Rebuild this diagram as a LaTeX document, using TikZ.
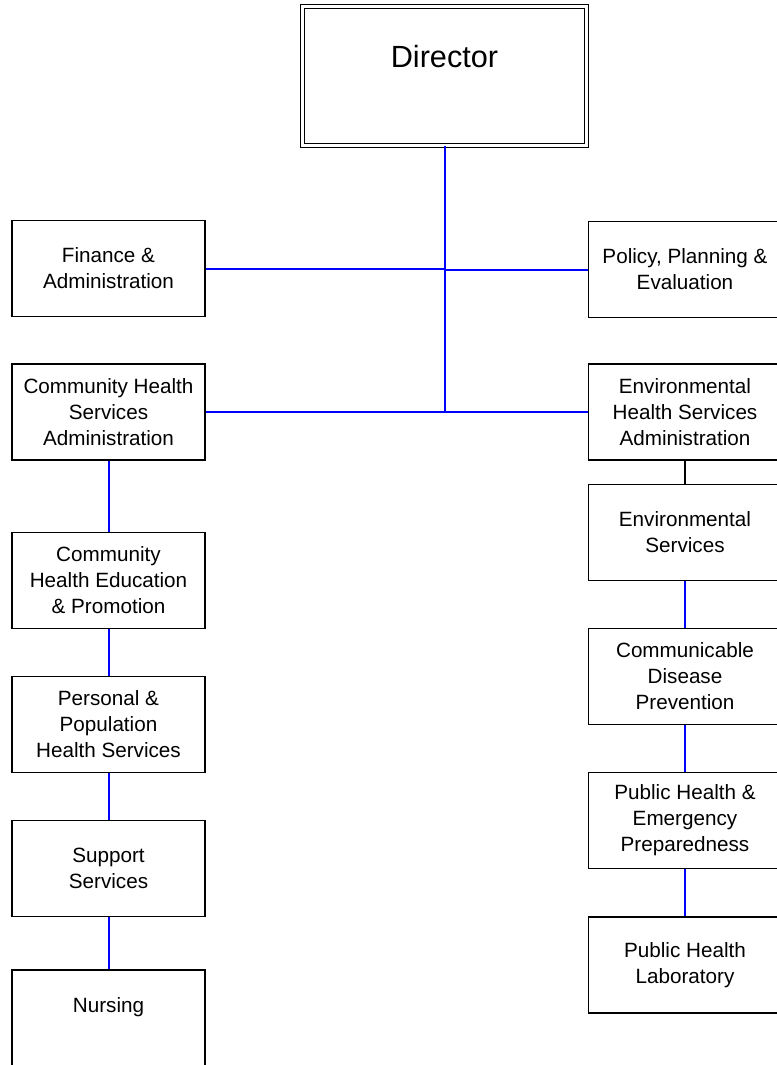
\documentclass[tikz,border=0pt]{standalone}
\usepackage{fontspec}
\setmainfont{Liberation Sans}
\definecolor{linkblue}{RGB}{0, 0, 255}

\begin{document}
\begin{tikzpicture}[x=0.75pt, y=-0.75pt,
  unitbox/.style={draw, line width=1.4pt, fill=white, minimum width=144.75pt, minimum height=72pt,
    inner sep=0pt, align=center, font=\fontsize{15.5}{19.5}\selectfont},
  link/.style={draw=linkblue, line width=1.5pt}]
  \clip (0, 0) rectangle (777, 1065);

  % Director
  \node[draw, double, line width=0.9pt, double distance=1.9pt, minimum width=213pt, minimum height=104pt,
    inner sep=0pt, align=center, font=\fontsize{23}{27}\selectfont] (dir) at (444.5, 76) {Director\\[3pt]\mbox{}};

  % left column
  \node[unitbox] (fin) at (108.5, 268.5) {Finance \&\\Administration};
  \node[unitbox] (chs) at (108.5, 412) {Community Health\\Services\\Administration};
  \node[unitbox] (che) at (108.5, 580.5) {Community\\Health Education\\\& Promotion};
  \node[unitbox] (pop) at (108.5, 724.5) {Personal \&\\Population\\Health Services};
  \node[unitbox] (sup) at (108.5, 868.5) {Support\\Services};
  \node[unitbox] (nur) at (108.5, 1018) {Nursing\\\mbox{}};

  % right column
  \node[unitbox] (pol) at (685, 269.5) {Policy, Planning \&\\Evaluation};
  \node[unitbox] (ehs) at (685, 412) {Environmental\\Health Services\\Administration};
  \node[unitbox] (env) at (685, 532.5) {Environmental\\Services};
  \node[unitbox] (cdp) at (685, 676.5) {Communicable\\Disease\\Prevention};
  \node[unitbox] (phe) at (685, 820.5) {Public Health \&\\Emergency\\Preparedness};
  \node[unitbox] (lab) at (685, 965) {Public Health\\Laboratory};

  % connectors
  \draw[link] (dir.south) -- (dir.south |- chs.east);
  \draw[link] (fin.east) -- (fin.east -| dir.south);
  \draw[link] (pol.west) -- (pol.west -| dir.south);
  \draw[link] (chs.east) -- (ehs.west);
  \draw[link] (chs.south) -- (che.north);
  \draw[link] (che.south) -- (pop.north);
  \draw[link] (pop.south) -- (sup.north);
  \draw[link] (sup.south) -- (nur.north);
  \draw[line width=1.4pt] (ehs.south) -- (env.north);
  \draw[link] (env.south) -- (cdp.north);
  \draw[link] (cdp.south) -- (phe.north);
  \draw[link] (phe.south) -- (lab.north);
\end{tikzpicture}
\end{document}
